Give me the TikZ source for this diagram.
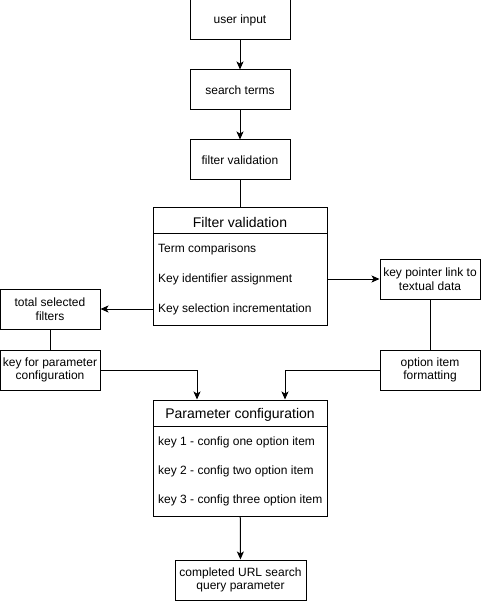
\documentclass[tikz,border=0pt]{standalone}
\usepackage{fontspec}
\setmainfont{Liberation Sans}
\usetikzlibrary{arrows.meta, positioning}

\tikzset{
  stepbox/.style={draw, line width=1pt, minimum width=100pt, minimum height=40pt,
    align=center, inner sep=2pt, font=\fontsize{12}{13.5}\selectfont},
  listbox/.style={draw, line width=1pt, minimum width=174pt, inner sep=0pt},
  listhead/.style={inner sep=0pt, font=\fontsize{14}{16}\selectfont},
  listitem/.style={anchor=west, inner sep=0pt, font=\fontsize{12}{14}\selectfont},
  conn/.style={line width=1pt, -{Stealth[length=8pt,width=7pt,inset=2pt]}},
  plain/.style={line width=1pt}
}

\begin{document}
\begin{tikzpicture}[x=1pt,y=-1pt]
\useasboundingbox (0,0) rectangle (481,601);

% main column
\node[stepbox] (userin) at (240,20) {user input};
\node[stepbox] (terms) at (240,90) {search terms};
\node[stepbox] (check) at (240,160) {filter validation};

% filter validation list
\node[listbox, minimum height=117pt] (fv) at (240,266.5) {};
\node[listhead] (fvhead) at (240,222.5) {Filter validation};
\draw[plain] (153,234) -- (327,234);
\node[listitem] (fvone) at (158,249.5) {Term comparisons};
\node[listitem] (fvtwo) at (158,279.5) {Key identifier assignment};
\node[listitem] (fvthree) at (158,309.5) {Key selection incrementation};

% side boxes
\node[stepbox] (total) at (50,309) {total selected\\filters};
\node[stepbox] (keyparam) at (50,370) {key for parameter\\configuration};
\node[stepbox] (keyptr) at (430,279) {key pointer link to\\textual data};
\node[stepbox] (optfmt) at (430,370) {option item\\formatting};

% parameter configuration list
\node[listbox, minimum height=116pt] (pc) at (240,458) {};
\node[listhead] (pchead) at (240,414.5) {Parameter configuration};
\draw[plain] (153,426) -- (327,426);
\node[listitem] (pcone) at (158,442.5) {key 1 - config one option item};
\node[listitem] (pctwo) at (158,471.5) {key 2 - config two option item};
\node[listitem] (pcthree) at (158,500.5) {key 3 - config three option item};

\node[stepbox, minimum width=131pt] (done) at (240.5,580) {completed URL search\\query parameter};

% connectors
\draw[conn] (userin) -- (terms);
\draw[conn] (terms) -- (check);
\draw[plain] (check) -- (fv);
\draw[conn] (fv.west |- total) -- (total.east);
\draw[conn] (fv.east |- keyptr) -- (keyptr.west);
\draw[plain] (total) -- (keyparam);
\draw[plain] (keyptr) -- (optfmt);
\draw[conn] (keyparam.east) -| ([xshift=-43pt]pc.north);
\draw[conn] (optfmt.west) -| ([xshift=45pt]pc.north);
\draw[conn] (pc) -- (done);
\end{tikzpicture}
\end{document}
